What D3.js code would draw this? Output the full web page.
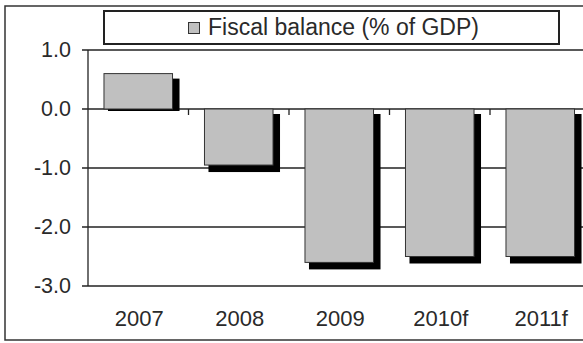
<!DOCTYPE html>
<html>
<head>
<meta charset="utf-8">
<script src="https://cdn.jsdelivr.net/npm/d3@7"></script>
<style>
  html, body { margin: 0; padding: 0; background: #fff; }
  svg { display: block; }
  text { font-family: "Liberation Sans", Arial, sans-serif; fill: #2a2a2a; }
</style>
</head>
<body>
<svg id="chart" width="583" height="343"></svg>
<script>
// Fiscal balance, % of GDP (f = forecast)
const categories = ["2007", "2008", "2009", "2010f", "2011f"];
const balance = [0.6, -0.95, -2.6, -2.5, -2.5];
const yTicks = [1, 0, -1, -2, -3];
const seriesName = "Fiscal balance (% of GDP)";

const svg = d3.select("#chart");

const plot = { left: 88, right: 590.5, top: 50, bottom: 286 };

const x = d3.scaleBand()
  .domain(categories)
  .range([plot.left, plot.right])
  .paddingInner(0.318)
  .paddingOuter(0.159);

const y = d3.scaleLinear()
  .domain([-3, 1])
  .range([plot.bottom, plot.top]);

// outer frame
svg.append("rect")
  .attr("x", 5).attr("y", 6)
  .attr("width", 620).attr("height", 334)
  .attr("fill", "none")
  .attr("stroke", "#333").attr("stroke-width", 1.5);

// horizontal gridlines with left ticks
svg.append("g").selectAll("line")
  .data(yTicks)
  .join("line")
  .attr("x1", plot.left - 6)
  .attr("x2", 600)
  .attr("y1", d => y(d))
  .attr("y2", d => y(d))
  .attr("stroke", "#222")
  .attr("stroke-width", 1.3);

// y tick labels (plain hyphen for negatives)
svg.append("g").selectAll("text")
  .data(yTicks)
  .join("text")
  .attr("x", 71)
  .attr("y", d => y(d) - 1)
  .attr("dy", "0.35em")
  .attr("text-anchor", "end")
  .attr("font-size", 21.5)
  .text(d => d.toFixed(1));

// y axis line
svg.append("line")
  .attr("x1", plot.left).attr("x2", plot.left)
  .attr("y1", y(1)).attr("y2", y(-3))
  .attr("stroke", "#222").attr("stroke-width", 1.3);

// category ticks on the zero line, at band boundaries
const step = x.step();
const boundaries = categories.map(c => x(c) - x.paddingInner() * step / 2).slice(1);
svg.append("g").selectAll("line")
  .data(boundaries)
  .join("line")
  .attr("x1", d => d).attr("x2", d => d)
  .attr("y1", y(0)).attr("y2", y(0) + 6)
  .attr("stroke", "#222").attr("stroke-width", 1.3);

// bars: black drop shadow, then grey bar
const bars = categories.map((c, i) => ({ c, v: balance[i] }));
svg.append("g").selectAll("rect")
  .data(bars)
  .join("rect")
  .attr("x", d => x(d.c) + 4)
  .attr("y", d => Math.min(y(d.v), y(0)) + 5)
  .attr("width", x.bandwidth() + 3)
  .attr("height", d => Math.abs(y(d.v) - y(0)) + (d.v < 0 ? 2 : -3))
  .attr("fill", "#000");

svg.append("g").selectAll("rect")
  .data(bars)
  .join("rect")
  .attr("x", d => x(d.c))
  .attr("y", d => Math.min(y(d.v), y(0)))
  .attr("width", x.bandwidth())
  .attr("height", d => Math.abs(y(d.v) - y(0)))
  .attr("fill", "#c0c0c0")
  .attr("stroke", "#333")
  .attr("stroke-width", 1);

// category labels
svg.append("g").selectAll("text")
  .data(categories)
  .join("text")
  .attr("x", d => x(d) + x.bandwidth() / 2 + 1)
  .attr("y", 326)
  .attr("text-anchor", "middle")
  .attr("font-size", 22)
  .text(d => d);

// legend
const legend = svg.append("g");
legend.append("rect")
  .attr("x", 104).attr("y", 11)
  .attr("width", 455).attr("height", 33)
  .attr("fill", "#fff")
  .attr("stroke", "#222").attr("stroke-width", 2);
legend.append("rect")
  .attr("x", 188.5).attr("y", 22.5)
  .attr("width", 11).attr("height", 11)
  .attr("fill", "#c0c0c0")
  .attr("stroke", "#333").attr("stroke-width", 1);
legend.append("text")
  .attr("x", 208).attr("y", 34.5)
  .attr("font-size", 23)
  .text(seriesName);
</script>
</body>
</html>
